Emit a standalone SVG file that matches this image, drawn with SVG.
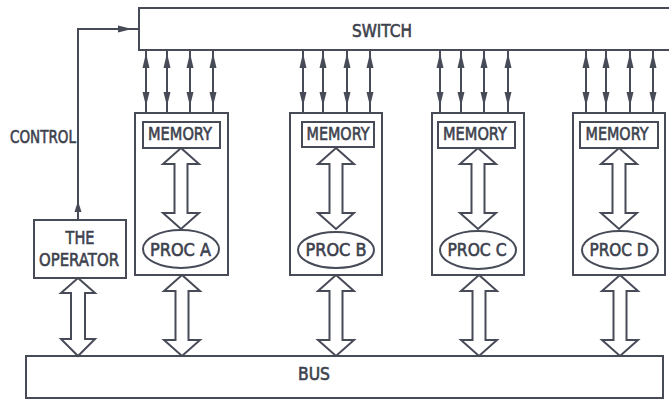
<svg xmlns="http://www.w3.org/2000/svg" xmlns:xlink="http://www.w3.org/1999/xlink" width="669" height="400" viewBox="0 0 669 400">
<style>
.box{fill:#fff;stroke:#474b57;stroke-width:2}
.ln{fill:none;stroke:#474b57;stroke-width:2}
.fat{fill:#fff;stroke:#474b57;stroke-width:2;stroke-linejoin:miter}
.ah{fill:#474b57;stroke:none}
.t{font-family:"DejaVu Sans","Liberation Sans",sans-serif;font-weight:normal;font-size:17px;fill:#3d414d;stroke:#3d414d;stroke-width:0.6;text-anchor:middle}
</style>
<defs>
<g id="sa">
<line x1="0" y1="50" x2="0" y2="113" class="ln"/>
<path class="ah" d="M0,53 L-3.5,68 L3.5,68 Z"/>
<path class="ah" d="M0,106 L-3.5,92 L3.5,92 Z"/>
</g>
<path id="fat" class="fat" d="M0,0 L18,16 L6.5,16 L6.5,65 L18,65 L0,81 L-18,65 L-6.5,65 L-6.5,16 L-18,16 Z"/>
</defs>
<rect width="669" height="400" fill="#fff"/>

<g id="switch">
<rect class="box" x="139" y="8" width="540" height="42"/>
<text class="t" x="382" y="37" textLength="60" lengthAdjust="spacingAndGlyphs">SWITCH</text>
</g>

<g id="bus">
<rect class="box" x="26" y="356" width="637" height="42"/>
<text class="t" x="314" y="380" textLength="32" lengthAdjust="spacingAndGlyphs">BUS</text>
</g>

<g id="operator">
<rect class="box" x="34" y="220" width="92" height="58"/>
<text class="t" x="80" y="244" textLength="29" lengthAdjust="spacingAndGlyphs">THE</text>
<text class="t" x="79" y="266" textLength="80" lengthAdjust="spacingAndGlyphs">OPERATOR</text>
</g>

<g id="control-label">
<text class="t" x="43" y="143" textLength="66" lengthAdjust="spacingAndGlyphs">CONTROL</text>
</g>

<g id="procA">
<rect class="box" x="135" y="113" width="93" height="162"/>
<rect class="box" x="143" y="122" width="77" height="26"/>
<text class="t" x="180" y="140" textLength="64" lengthAdjust="spacingAndGlyphs">MEMORY</text>
<ellipse class="box" cx="181" cy="249" rx="38" ry="19"/>
<text class="t" x="180.5" y="256" textLength="61" lengthAdjust="spacingAndGlyphs">PROC A</text>
</g>

<g id="procB">
<rect class="box" x="290" y="113" width="92" height="162"/>
<rect class="box" x="302" y="122" width="72" height="25"/>
<text class="t" x="338" y="140" textLength="63" lengthAdjust="spacingAndGlyphs">MEMORY</text>
<ellipse class="box" cx="336" cy="250" rx="38" ry="18"/>
<text class="t" x="336" y="256" textLength="61" lengthAdjust="spacingAndGlyphs">PROC B</text>
</g>

<g id="procC">
<rect class="box" x="432" y="113" width="92" height="162"/>
<rect class="box" x="438" y="122" width="77" height="26"/>
<text class="t" x="475" y="140" textLength="64" lengthAdjust="spacingAndGlyphs">MEMORY</text>
<ellipse class="box" cx="478" cy="250" rx="38" ry="19"/>
<text class="t" x="477" y="256" textLength="59" lengthAdjust="spacingAndGlyphs">PROC C</text>
</g>

<g id="procD">
<rect class="box" x="573" y="113" width="92" height="162"/>
<rect class="box" x="580" y="122" width="78" height="26"/>
<text class="t" x="617" y="140" textLength="63" lengthAdjust="spacingAndGlyphs">MEMORY</text>
<ellipse class="box" cx="620" cy="250" rx="38" ry="19"/>
<text class="t" x="619" y="256" textLength="59" lengthAdjust="spacingAndGlyphs">PROC D</text>
</g>

<g id="connectors">
<path class="ln" d="M78,220 L78,29 L139,29"/>
<path class="ah" d="M132,29 L118,25.5 L118,32.5 Z"/>
<path class="ah" d="M78,201 L74.5,212 L81.5,212 Z"/>
<use xlink:href="#sa" x="146"/><use xlink:href="#sa" x="167"/><use xlink:href="#sa" x="190"/><use xlink:href="#sa" x="213"/>
<use xlink:href="#sa" x="303"/><use xlink:href="#sa" x="323"/><use xlink:href="#sa" x="347"/><use xlink:href="#sa" x="370"/>
<use xlink:href="#sa" x="440"/><use xlink:href="#sa" x="461"/><use xlink:href="#sa" x="484"/><use xlink:href="#sa" x="508"/>
<use xlink:href="#sa" x="586"/><use xlink:href="#sa" x="606"/><use xlink:href="#sa" x="630"/><use xlink:href="#sa" x="653"/>
<use xlink:href="#fat" x="181" y="148"/>
<use xlink:href="#fat" x="336" y="148"/>
<use xlink:href="#fat" x="478" y="148"/>
<use xlink:href="#fat" x="619" y="148"/>
<path class="fat" d="M78,278 L95,293 L85,293 L85,339 L95,339 L78,356 L61,339 L71,339 L71,293 L61,293 Z"/>
<use xlink:href="#fat" x="182" y="275"/>
<use xlink:href="#fat" x="336" y="275"/>
<use xlink:href="#fat" x="479" y="275"/>
<use xlink:href="#fat" x="620" y="275"/>
</g>
</svg>
